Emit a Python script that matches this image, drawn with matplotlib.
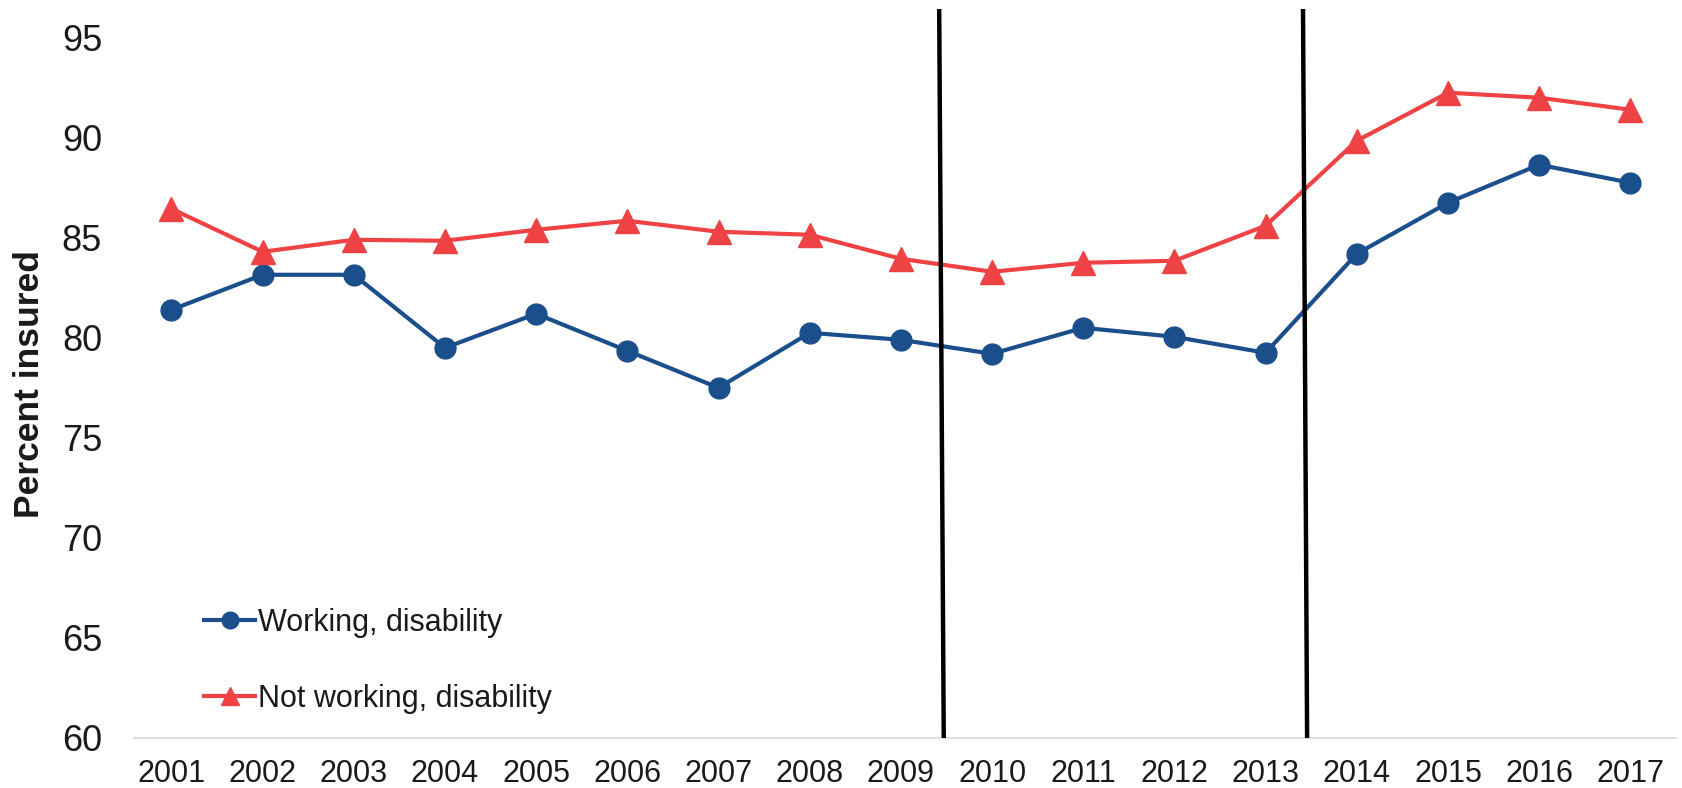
import matplotlib
matplotlib.use("Agg")
import matplotlib.pyplot as plt
from matplotlib.lines import Line2D

years = list(range(2001, 2018))
working_disability = [81.4, 83.15, 83.15, 79.5, 81.2, 79.35, 77.5, 80.25, 79.9,
                      79.2, 80.5, 80.05, 79.25, 84.2, 86.75, 88.65, 87.75]
not_working_disability = [86.45, 84.3, 84.9, 84.85, 85.4, 85.85, 85.3, 85.15, 83.95,
                          83.3, 83.75, 83.85, 85.6, 89.85, 92.25, 92.0, 91.4]
y_ticks = [60, 65, 70, 75, 80, 85, 90, 95]
policy_breaks = [(2009.42, 2009.47), (2013.41, 2013.455)]  # (top, bottom) x positions

BLUE = "#1B4F8B"
RED = "#EE4245"

plt.rcParams["font.family"] = ["Liberation Sans", "DejaVu Sans"]

fig = plt.figure(figsize=(16.82, 7.88), dpi=100)
ax = fig.add_axes([0.0797, 0.0635, 0.9167, 0.9255])

ax.plot(years, working_disability, color=BLUE, lw=3.0, marker="o", ms=15,
        label="Working, disability", zorder=3)
ax.plot(years, not_working_disability, color=RED, lw=3.0, marker="^", ms=17,
        label="Not working, disability", zorder=3)

ymin, ymax = 60, 96.45
for top_x, bot_x in policy_breaks:
    ax.plot([top_x, bot_x], [ymax, ymin], color="black", lw=3.2, zorder=4,
            solid_capstyle="butt")

ax.set_xlim(2000.59, 2017.5)
ax.set_ylim(ymin, ymax)
ax.set_xticks(years)
ax.set_xticklabels([str(y) for y in years], fontsize=22, color="#1a1a1a")
ax.set_yticks(y_ticks)
ax.set_yticklabels([str(v) for v in y_ticks], fontsize=26, color="#1a1a1a")
ax.tick_params(axis="both", length=0)
ax.tick_params(axis="x", pad=15)
ax.tick_params(axis="y", pad=23)

for side in ("top", "right", "left"):
    ax.spines[side].set_visible(False)
ax.spines["bottom"].set_color("#d9d9d9")
ax.spines["bottom"].set_linewidth(1.2)

fig.text(0.0175, 0.512, "Percent insured", rotation=90, ha="center", va="center",
         fontsize=25.5, fontweight="bold", color="#1a1a1a")

handles = [
    Line2D([], [], color=BLUE, lw=3.0, marker="o", ms=12),
    Line2D([], [], color=RED, lw=3.0, marker="^", ms=13),
]
fig.legend(handles, ["Working, disability", "Not working, disability"],
           loc="upper left", bbox_to_anchor=(0.1212, 0.229), frameon=False,
           fontsize=22, handlelength=1.68, handletextpad=0.1,
           labelspacing=1.52, borderpad=0, borderaxespad=0,
           labelcolor="#1a1a1a")

fig.savefig("out.png", dpi=100, facecolor="white")
